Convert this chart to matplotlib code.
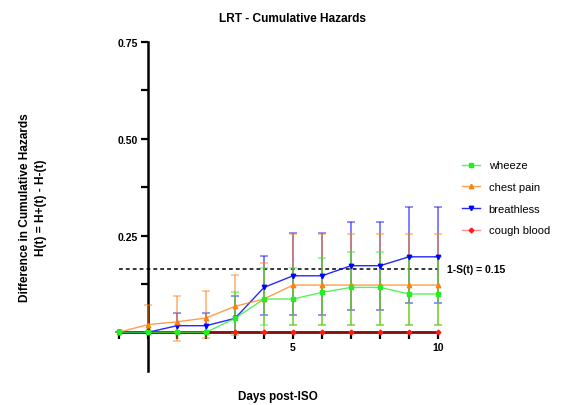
import numpy as np
import matplotlib
matplotlib.use("Agg")
import matplotlib.pyplot as plt
from matplotlib.colors import to_rgba
from matplotlib.ticker import FixedLocator, NullFormatter

plt.rcParams['font.family'] = ['Liberation Sans', 'DejaVu Sans']

days = [-1, 0, 1, 2, 3, 4, 5, 6, 7, 8, 9, 10]

wheeze = [0, 0, 0, 0, 0.036, 0.086, 0.086, 0.103, 0.116, 0.116, 0.099, 0.099]
wheeze_lo = [0, 0, 0, 0, -0.008, 0.019, 0.019, 0.019, 0.019, 0.019, 0.020, 0.020]
wheeze_hi = [0, 0, 0, 0, 0.103, 0.165, 0.165, 0.193, 0.208, 0.208, 0.195, 0.195]

chest_pain = [0, 0.020, 0.027, 0.037, 0.067, 0.086, 0.122, 0.122, 0.122, 0.122, 0.122, 0.122]
chest_lo = [0, 0.0, -0.022, -0.015, -0.003, 0.0, 0.019, 0.019, 0.019, 0.019, 0.019, 0.019]
chest_hi = [0, 0.070, 0.095, 0.106, 0.148, 0.180, 0.254, 0.254, 0.254, 0.254, 0.254, 0.254]

breathless = [0, 0, 0.017, 0.017, 0.036, 0.116, 0.146, 0.146, 0.172, 0.172, 0.195, 0.195]
breath_lo = [0, 0, 0.0, 0.0, 0.0, 0.045, 0.045, 0.045, 0.058, 0.058, 0.076, 0.076]
breath_hi = [0, 0, 0.050, 0.050, 0.095, 0.197, 0.256, 0.256, 0.284, 0.284, 0.324, 0.324]

cough_blood = [0] * 12

survival_threshold = 0.15
hazard_threshold = -np.log(1 - survival_threshold)

# name, values, lower, upper, colour, marker, marker size, line alpha
series = [
    ("cough blood", cough_blood, None, None, "#ff1a1a", "D", 2.4, 0.5),
    ("breathless", breathless, breath_lo, breath_hi, "#0000ff", "v", 3.2, 0.85),
    ("chest pain", chest_pain, chest_lo, chest_hi, "#ff7f0e", "^", 3.2, 0.75),
    ("wheeze", wheeze, wheeze_lo, wheeze_hi, "#22ee22", "s", 3.2, 0.75),
]

fig = plt.figure(figsize=(5.69, 4.06), dpi=100)
ax = fig.add_axes([119 / 569, 1 - 372 / 406, (438 - 119) / 569, (372 - 43) / 406])
ax.set_xlim(-1, 10)
ax.set_ylim(-0.1, 0.75)

handles = {}
for name, vals, lo, hi, col, mk, ms, la in series:
    x = np.array(days, dtype=float)
    y = np.array(vals, dtype=float)
    if lo is not None:
        lo_a = np.array(lo, dtype=float)
        hi_a = np.array(hi, dtype=float)
        ax.errorbar(x, y, yerr=[y - lo_a, hi_a - y], fmt="none",
                    ecolor=col, alpha=0.5, elinewidth=1.4, capsize=3,
                    capthick=1.2, clip_on=False, zorder=3)
    ln, = ax.plot(x, y, color=to_rgba(col, la), lw=1.0, marker=mk, ms=ms,
                  markerfacecolor=col, markeredgecolor=col, clip_on=False,
                  zorder=4, label=name)
    handles[name] = ln

ax.plot([-1, 10], [hazard_threshold, hazard_threshold], ls=(0, (2.5, 2)),
        color="black", lw=1.1, zorder=2)
ax.text(10.3, hazard_threshold, "1-S(t) = 0.15", fontsize=7.5,
        fontweight="bold", va="center", ha="left")

for s in ["top", "right"]:
    ax.spines[s].set_visible(False)
ax.spines["left"].set_position(("data", 0))
ax.spines["bottom"].set_position(("data", 0))
ax.spines["left"].set_linewidth(1.8)
ax.spines["bottom"].set_linewidth(1.8)
ax.spines["bottom"].set_zorder(1)

ax.set_xticks(days)
ax.set_xticklabels(["" if d not in (5, 10) else str(d) for d in days])
ax.set_yticks([0.25, 0.50, 0.75])
ax.set_yticklabels(["0.25", "0.50", "0.75"])
ax.yaxis.set_minor_locator(FixedLocator([0.125, 0.375, 0.625]))
ax.yaxis.set_minor_formatter(NullFormatter())
ax.tick_params(axis="both", which="major", length=5, width=1.6,
               labelsize=7.5, pad=2)
ax.tick_params(axis="y", which="minor", length=5, width=1.6)
for lab in ax.get_xticklabels() + ax.get_yticklabels():
    lab.set_fontweight("bold")

fig.text(293 / 569, 1 - 19 / 406, "LRT - Cumulative Hazards", ha="center",
         va="center", fontsize=8.6, fontweight="bold")
fig.text(278 / 569, 1 - 397 / 406, "Days post-ISO", ha="center",
         va="center", fontsize=8.4, fontweight="bold")
fig.text(33 / 569, 1 - 208 / 406,
         "Difference in Cumulative Hazards\nH(t) = H+(t) - H-(t)",
         ha="center", va="center", rotation=90, fontsize=8.6,
         fontweight="bold", linespacing=1.35)

order = ["wheeze", "chest pain", "breathless", "cough blood"]
fig.legend([handles[n] for n in order], order, loc="upper left",
           bbox_to_anchor=(458 / 569, 1 - 157 / 406), frameon=False,
           fontsize=8, handlelength=1.6, handletextpad=0.75,
           labelspacing=1.05, borderaxespad=0)

fig.savefig("out.png", dpi=100)
